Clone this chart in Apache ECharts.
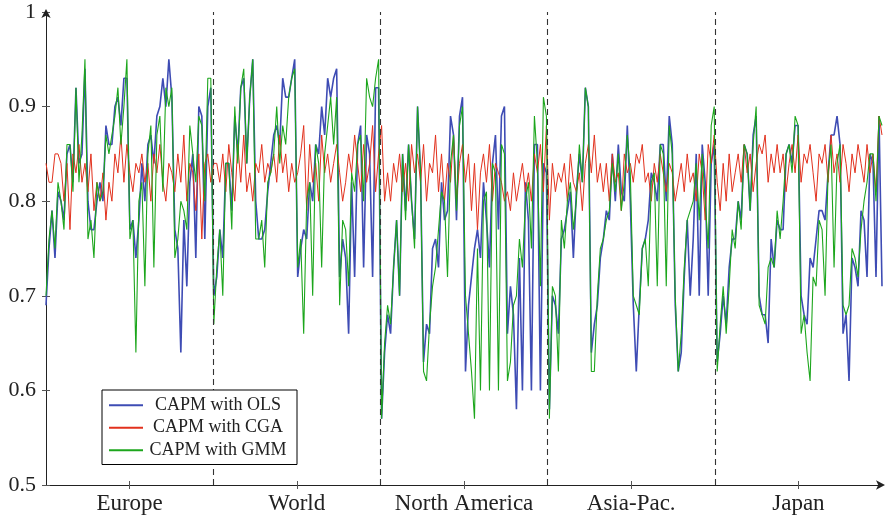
<!DOCTYPE html>
<html>
<head>
<meta charset="utf-8">
<script src="https://cdn.jsdelivr.net/npm/echarts@6/dist/echarts.min.js"></script>
<style>
  html, body { margin: 0; padding: 0; background: #fff; }
  #chart { width: 885px; height: 519px; }
</style>
</head>
<body>
<div id="chart"></div>
<script>
// Market groups along the x axis (56 estimates each)
const regions = ['Europe', 'World', 'North America', 'Asia-Pac.', 'Japan'];
const perRegion = 56;

// y-axis ticks
const yTicks = [0.5, 0.6, 0.7, 0.8, 0.9, 1];

// CAPM with OLS
const ols = [
  // Europe
  0.69,0.75,0.79,0.74,0.81,0.80,0.78,0.85,0.86,0.82,0.92,0.84,0.85,0.94,0.80,0.77,0.77,0.80,0.82,0.80,0.88,0.86,0.86,0.90,0.91,0.88,0.93,0.93,0.77,0.78,0.74,0.78,0.84,0.80,0.86,0.87,0.84,0.89,0.90,0.93,0.90,0.95,0.91,0.77,0.75,0.64,0.78,0.71,0.82,0.85,0.74,0.90,0.89,0.76,0.90,0.92,
  // World
  0.70,0.72,0.77,0.74,0.84,0.84,0.79,0.89,0.85,0.92,0.93,0.84,0.91,0.95,0.80,0.76,0.76,0.77,0.81,0.84,0.87,0.88,0.86,0.93,0.91,0.91,0.93,0.95,0.72,0.75,0.77,0.76,0.82,0.80,0.86,0.85,0.90,0.87,0.93,0.91,0.93,0.94,0.72,0.76,0.74,0.66,0.82,0.72,0.86,0.88,0.73,0.87,0.85,0.72,0.92,0.92,
  // North America
  0.57,0.64,0.68,0.66,0.73,0.78,0.70,0.85,0.79,0.86,0.80,0.76,0.90,0.83,0.63,0.67,0.66,0.75,0.76,0.73,0.82,0.78,0.79,0.89,0.87,0.78,0.89,0.91,0.62,0.69,0.72,0.75,0.77,0.74,0.82,0.78,0.73,0.84,0.87,0.77,0.89,0.90,0.66,0.71,0.68,0.58,0.74,0.60,0.82,0.78,0.60,0.86,0.86,0.60,0.84,0.83,
  // Asia-Pac.
  0.58,0.70,0.69,0.66,0.76,0.77,0.79,0.81,0.74,0.81,0.85,0.82,0.92,0.90,0.64,0.67,0.69,0.74,0.76,0.79,0.78,0.85,0.80,0.86,0.81,0.80,0.88,0.80,0.69,0.62,0.69,0.75,0.76,0.78,0.83,0.82,0.80,0.86,0.86,0.80,0.89,0.86,0.69,0.62,0.64,0.72,0.78,0.70,0.76,0.85,0.70,0.86,0.82,0.70,0.84,0.86,
  // Japan
  0.63,0.66,0.70,0.67,0.73,0.76,0.76,0.80,0.78,0.86,0.85,0.79,0.87,0.89,0.70,0.68,0.68,0.65,0.76,0.73,0.78,0.77,0.77,0.85,0.86,0.84,0.88,0.88,0.70,0.68,0.67,0.74,0.73,0.76,0.79,0.79,0.78,0.83,0.87,0.87,0.89,0.86,0.66,0.68,0.61,0.74,0.73,0.71,0.79,0.78,0.72,0.85,0.84,0.72,0.89,0.71
];

// CAPM with CGA
const cga = [
  // Europe
  0.84,0.82,0.82,0.85,0.85,0.84,0.80,0.84,0.77,0.85,0.83,0.86,0.82,0.84,0.81,0.85,0.79,0.82,0.80,0.83,0.78,0.82,0.80,0.85,0.83,0.87,0.82,0.86,0.83,0.81,0.84,0.83,0.85,0.82,0.84,0.80,0.85,0.83,0.86,0.82,0.80,0.84,0.83,0.81,0.85,0.82,0.87,0.80,0.84,0.83,0.79,0.85,0.76,0.84,0.85,0.82,
  // World
  0.84,0.84,0.82,0.85,0.81,0.86,0.83,0.80,0.86,0.82,0.87,0.81,0.83,0.80,0.84,0.83,0.86,0.82,0.84,0.83,0.85,0.82,0.87,0.83,0.85,0.81,0.84,0.82,0.83,0.85,0.88,0.79,0.86,0.82,0.84,0.80,0.87,0.83,0.85,0.82,0.84,0.86,0.83,0.80,0.82,0.85,0.83,0.87,0.84,0.81,0.86,0.82,0.84,0.88,0.81,0.85,
  // North America
  0.88,0.80,0.83,0.80,0.84,0.82,0.85,0.81,0.84,0.80,0.86,0.83,0.85,0.82,0.86,0.80,0.84,0.83,0.87,0.81,0.85,0.80,0.84,0.82,0.87,0.80,0.84,0.86,0.82,0.85,0.79,0.84,0.77,0.83,0.85,0.82,0.86,0.80,0.84,0.83,0.82,0.80,0.81,0.79,0.83,0.80,0.82,0.84,0.81,0.83,0.80,0.85,0.83,0.86,0.81,0.88,
  // Asia-Pac.
  0.78,0.84,0.81,0.83,0.82,0.84,0.80,0.85,0.82,0.81,0.83,0.79,0.84,0.86,0.83,0.87,0.82,0.84,0.81,0.84,0.80,0.85,0.82,0.83,0.79,0.85,0.83,0.84,0.82,0.85,0.84,0.86,0.82,0.83,0.80,0.84,0.82,0.85,0.83,0.81,0.84,0.83,0.80,0.82,0.84,0.81,0.85,0.82,0.83,0.80,0.85,0.83,0.78,0.86,0.84,0.87,
  // Japan
  0.82,0.79,0.84,0.80,0.85,0.81,0.83,0.85,0.82,0.86,0.83,0.85,0.81,0.84,0.86,0.85,0.87,0.82,0.85,0.83,0.86,0.83,0.85,0.81,0.84,0.86,0.83,0.87,0.82,0.85,0.84,0.86,0.83,0.80,0.85,0.84,0.86,0.82,0.87,0.83,0.85,0.82,0.86,0.84,0.81,0.85,0.83,0.86,0.84,0.82,0.86,0.83,0.85,0.81,0.89,0.87
];

// CAPM with GMM
const gmm = [
  // Europe
  0.70,0.76,0.79,0.75,0.82,0.80,0.77,0.86,0.86,0.81,0.92,0.82,0.87,0.95,0.76,0.78,0.74,0.82,0.80,0.81,0.87,0.85,0.87,0.89,0.92,0.86,0.90,0.95,0.76,0.78,0.64,0.80,0.82,0.71,0.85,0.88,0.73,0.87,0.89,0.81,0.92,0.90,0.92,0.74,0.76,0.80,0.79,0.77,0.88,0.85,0.82,0.89,0.88,0.80,0.93,0.93,
  // World
  0.67,0.73,0.77,0.70,0.84,0.84,0.77,0.90,0.84,0.92,0.94,0.84,0.91,0.95,0.76,0.76,0.78,0.73,0.82,0.83,0.85,0.90,0.84,0.88,0.86,0.91,0.93,0.94,0.73,0.76,0.66,0.80,0.82,0.70,0.86,0.84,0.73,0.85,0.88,0.91,0.86,0.91,0.69,0.78,0.77,0.71,0.83,0.81,0.86,0.87,0.80,0.93,0.91,0.90,0.93,0.95,
  // North America
  0.57,0.65,0.69,0.67,0.73,0.78,0.70,0.85,0.78,0.86,0.80,0.75,0.90,0.83,0.62,0.61,0.67,0.71,0.73,0.77,0.81,0.80,0.72,0.84,0.87,0.79,0.88,0.90,0.70,0.66,0.62,0.57,0.75,0.60,0.80,0.81,0.60,0.84,0.83,0.60,0.86,0.85,0.61,0.63,0.69,0.70,0.76,0.73,0.80,0.82,0.75,0.89,0.84,0.71,0.91,0.89,
  // Asia-Pac.
  0.57,0.71,0.70,0.62,0.78,0.75,0.80,0.82,0.77,0.80,0.86,0.82,0.92,0.90,0.62,0.62,0.70,0.75,0.76,0.78,0.79,0.84,0.81,0.85,0.79,0.82,0.87,0.83,0.70,0.69,0.68,0.75,0.76,0.71,0.82,0.83,0.71,0.86,0.85,0.71,0.88,0.85,0.70,0.62,0.66,0.73,0.78,0.79,0.80,0.84,0.78,0.85,0.80,0.75,0.88,0.90,
  // Japan
  0.62,0.67,0.71,0.66,0.71,0.77,0.75,0.80,0.77,0.86,0.85,0.79,0.86,0.90,0.69,0.68,0.67,0.73,0.74,0.73,0.79,0.76,0.80,0.85,0.86,0.83,0.89,0.88,0.66,0.68,0.64,0.61,0.72,0.71,0.78,0.77,0.70,0.83,0.86,0.73,0.84,0.86,0.69,0.68,0.69,0.75,0.74,0.72,0.77,0.80,0.82,0.85,0.85,0.80,0.89,0.88
];

const seriesNames = ['CAPM with OLS', 'CAPM with CGA', 'CAPM with GMM'];
const seriesColors = ['#3e4cb4', '#e2311d', '#1ca61c'];

const xMax = ols.length - 1;
const span = xMax / regions.length;
const centers = regions.map((_, k) => span * (k + 0.5));
const bounds = regions.slice(1).map((_, k) => span * (k + 1));

const FONT = '"Liberation Serif", "DejaVu Serif", serif';
const AXIS_COLOR = '#222';

const pairs = arr => arr.map((v, i) => [i, v]);

const chart = echarts.init(document.getElementById('chart'), null, { renderer: 'canvas' });

chart.setOption({
  animation: false,
  backgroundColor: '#fff',
  grid: { left: 46, right: 3, top: 12, bottom: 34, containLabel: false },
  legend: {
    orient: 'vertical',
    left: 102,
    top: 390,
    z: 20,
    padding: [6, 9, 5, 7],
    borderColor: '#000',
    borderWidth: 1,
    backgroundColor: '#fff',
    itemGap: 4,
    itemWidth: 34,
    itemHeight: 2,
    data: seriesNames.map((n, k) => ({
      name: n,
      icon: 'rect',
      itemStyle: { color: seriesColors[k] }
    })),
    formatter: '{t|{name}}',
    textStyle: {
      fontFamily: FONT,
      fontSize: 18,
      color: '#222',
      rich: { t: { width: 140, height: 18.5, align: 'center', fontFamily: FONT, fontSize: 18, lineHeight: 18.5, color: '#222' } }
    }
  },
  xAxis: [
    {
      type: 'value',
      min: 0,
      max: xMax,
      position: 'bottom',
      splitLine: { show: false },
      axisLine: { onZero: false, lineStyle: { color: AXIS_COLOR, width: 1 }, symbol: ['none', 'arrow'], symbolSize: [7, 9], symbolOffset: [0, 3] },
      axisTick: { customValues: centers, length: 4, lineStyle: { color: '#555' } },
      axisLabel: {
        customValues: centers,
        margin: 7,
        fontFamily: FONT,
        fontSize: 23,
        color: '#222',
        formatter: v => regions[Math.min(regions.length - 1, Math.floor(v / span))]
      }
    },
    {
      type: 'value',
      min: 0,
      max: xMax,
      position: 'bottom',
      splitLine: { show: false },
      axisLine: { show: false },
      axisTick: { inside: true, customValues: centers, length: 4, lineStyle: { color: '#555' } },
      axisLabel: { show: false }
    }
  ],
  yAxis: [
    {
      type: 'value',
      min: 0.5,
      max: 1,
      interval: 0.1,
      splitLine: { show: false },
      axisLine: { show: true, onZero: false, lineStyle: { color: AXIS_COLOR, width: 1 }, symbol: ['none', 'arrow'], symbolSize: [7, 9], symbolOffset: [0, 3] },
      axisTick: { show: true, length: 4, lineStyle: { color: '#555' } },
      axisLabel: {
        margin: 10,
        fontFamily: FONT,
        fontSize: 22,
        color: '#222',
        customValues: yTicks,
        formatter: v => (Math.abs(v - 1) < 1e-9 ? '1' : v.toFixed(1))
      }
    },
    {
      type: 'value',
      min: 0.5,
      max: 1,
      interval: 0.1,
      position: 'left',
      splitLine: { show: false },
      axisLine: { show: false },
      axisTick: { show: true, inside: true, length: 4, lineStyle: { color: '#555' } },
      axisLabel: { show: false }
    }
  ],
  series: [
    {
      name: seriesNames[0],
      type: 'line',
      data: pairs(ols),
      showSymbol: false,
      symbol: 'none',
      color: seriesColors[0],
      lineStyle: { width: 1.6, color: seriesColors[0] },
      z: 2
    },
    {
      name: seriesNames[1],
      type: 'line',
      data: pairs(cga),
      showSymbol: false,
      symbol: 'none',
      color: seriesColors[1],
      lineStyle: { width: 1, color: seriesColors[1] },
      z: 3
    },
    {
      name: seriesNames[2],
      type: 'line',
      data: pairs(gmm),
      showSymbol: false,
      symbol: 'none',
      color: seriesColors[2],
      lineStyle: { width: 1.1, color: seriesColors[2] },
      z: 4,
      markLine: {
        silent: true,
        symbol: ['none', 'none'],
        label: { show: false },
        lineStyle: { color: '#333', width: 1.1, type: [6, 4] },
        data: bounds.map(b => ({ xAxis: b }))
      }
    }
  ]
});
</script>
</body>
</html>
